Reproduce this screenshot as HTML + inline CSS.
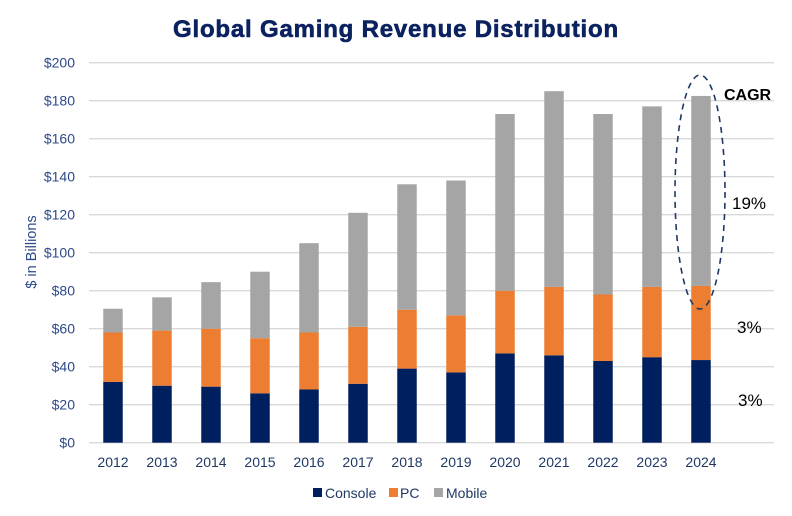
<!DOCTYPE html>
<html><head><meta charset="utf-8"><style>
body{margin:0;background:#fff}
svg{display:block;font-family:"Liberation Sans",Arial,sans-serif}
</style></head><body>
<svg id="chart" width="792" height="516" viewBox="0 0 792 516">
<text x="396" y="37" text-anchor="middle" font-size="24" font-weight="bold" letter-spacing="0.8" stroke="#0b2260" stroke-width="0.6" fill="#0b2260">Global Gaming Revenue Distribution</text>
<text transform="translate(36,252) rotate(-90)" text-anchor="middle" font-size="14.5" fill="#2e4a8a">$ in Billions</text>
<g id="grid"></g><g id="bars"></g><g id="xlabels"></g>
<ellipse cx="700" cy="192" rx="25" ry="117" fill="none" stroke="#1f3864" stroke-width="1.6" stroke-dasharray="6,5"/>
<text x="724" y="100" font-size="16" font-weight="bold" fill="#000">CAGR</text>
<text x="732" y="209" font-size="17" fill="#000">19%</text>
<text x="737" y="333" font-size="17" fill="#000">3%</text>
<text x="738" y="406" font-size="17" fill="#000">3%</text>
<g>
<rect x="313" y="488" width="9" height="9" fill="#001f5e"/>
<text x="325" y="498" font-size="14" fill="#1f3864">Console</text>
<rect x="389" y="488" width="9" height="9" fill="#ed7d31"/>
<text x="400" y="498" font-size="14" fill="#1f3864">PC</text>
<rect x="434" y="488" width="9" height="9" fill="#a5a5a5"/>
<text x="446" y="498" font-size="14" fill="#1f3864">Mobile</text>
</g>
</svg>
<script>
const years=["2012","2013","2014","2015","2016","2017","2018","2019","2020","2021","2022","2023","2024"];
const consoleVals=[32,30,29.5,26,28,31,39,37,47,46,43,45,43.5];
const pcVals=[26,29,30.5,29,30,30,31,30,33,36,35,37,39];
const mobileVals=[12.5,17.5,24.5,35,47,60,66,71,93,103,95,95,100];
const yTicks=[0,20,40,60,80,100,120,140,160,180,200];
const NS="http://www.w3.org/2000/svg";
const y0=442.7,pxPer=1.9,x0=113,step=49,bw=19.5;
const yS=v=>y0-v*pxPer, xS=i=>x0+step*i;
function mk(t,a,p){const e=document.createElementNS(NS,t);for(const k in a)e.setAttribute(k,a[k]);p.appendChild(e);return e;}
const grid=document.getElementById('grid'),bars=document.getElementById('bars'),xl=document.getElementById('xlabels');
yTicks.forEach(t=>{
 const l=mk('line',{x1:89,x2:774,y1:yS(t),y2:yS(t),stroke:'#d9d9d9','stroke-width':1.3},grid);
 
 
 const tx=mk('text',{x:75,y:yS(t)+5,'text-anchor':'end','font-size':14,fill:'#2e4a8a'},grid);
 tx.textContent='$'+t;
 
 
});
years.forEach((yr,i)=>{
 const segs=[[consoleVals[i],'#001f5e','console'],[pcVals[i],'#ed7d31','pc'],[mobileVals[i],'#a5a5a5','mobile']];
 let base=0;
 segs.forEach(s=>{
  const r=mk('rect',{x:xS(i)-bw/2,y:yS(base+s[0]),width:bw,height:s[0]*pxPer,fill:s[1]},bars);
  
  
  base+=s[0];
 });
 const t=mk('text',{x:xS(i),y:467,'text-anchor':'middle','font-size':14,fill:'#1f3864'},xl);
 t.textContent=yr;
 
 
});
</script>
</body></html>
